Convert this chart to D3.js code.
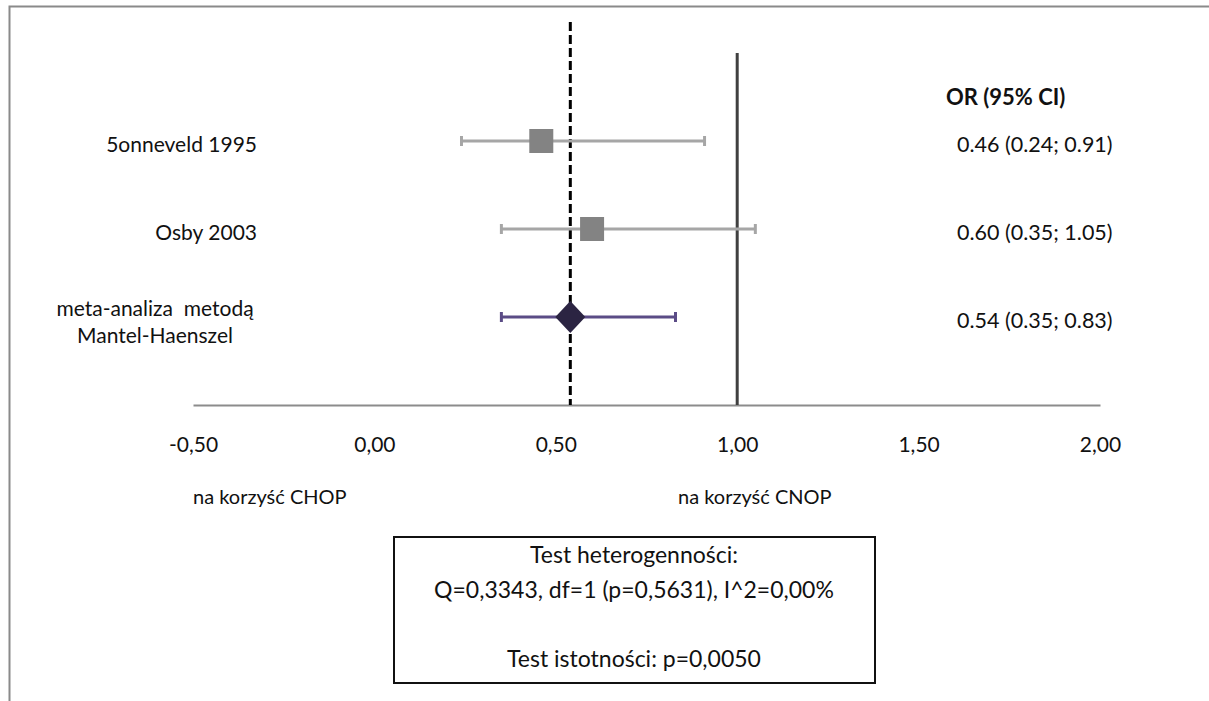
<!DOCTYPE html>
<html>
<head>
<meta charset="utf-8">
<script src="https://cdn.jsdelivr.net/npm/d3@7"></script>
<style>
    body { margin: 0; background: #fff; }
    svg text { font-family: Lato, "Open Sans", sans-serif; fill: #111; white-space: pre; }
</style>
</head>
<body>
<div id="chart"></div>
<script>
// study rows, top to bottom
const studies = ['5onneveld 1995', 'Osby 2003', 'meta-analiza  metodą|Mantel-Haenszel'];
const oddsRatios = [0.46, 0.60, 0.54];
const ciLow = [0.24, 0.35, 0.35];
const ciHigh = [0.91, 1.05, 0.83];
const rowPos = [3, 2, 1];
const xTicks = [-0.5, 0, 0.5, 1, 1.5, 2];
const pooledOR = 0.54;
const noEffect = 1;
const sideLabels = ['na korzyść CHOP', 'na korzyść CNOP'];
const statsLines = ['Test heterogenności:', 'Q=0,3343, df=1 (p=0,5631), I^2=0,00%', '', 'Test istotności: p=0,0050'];

const width = 1209, height = 701;
const svg = d3.select('#chart').append('svg')
    .attr('width', width)
    .attr('height', height);

// outer frame (only left and top edges are in view)
svg.append('path')
    .attr('d', 'M9.5,' + height + 'V6.5H' + width)
    .attr('fill', 'none')
    .attr('stroke', '#8a8a8a')
    .attr('stroke-width', 2);

const x = d3.scaleLinear().domain([-0.5, 2]).range([193, 1100]);
const y = d3.scaleLinear().domain([0, 4]).range([405, 53]);

// x axis: line + comma-decimal labels, plain hyphen for minus
const fmt = d => d3.format('.2f')(d).replace('.', ',').replace('\u2212', '-');
const axis = svg.append('g').attr('transform', 'translate(0,' + y(0) + ')')
    .call(d3.axisBottom(x).tickValues(xTicks).tickSize(0).tickPadding(32).tickFormat(fmt));
axis.select('.domain').attr('stroke', '#8c8c8c').attr('stroke-width', 2);
axis.selectAll('.tick text')
    .style('font-size', '21px')
    .attr('fill', '#111');

// reference lines
svg.append('line')
    .attr('x1', x(noEffect)).attr('x2', x(noEffect))
    .attr('y1', y(4)).attr('y2', y(0))
    .attr('stroke', '#404040').attr('stroke-width', 3);

svg.append('line')
    .attr('x1', x(pooledOR)).attr('x2', x(pooledOR))
    .attr('y1', 22).attr('y2', y(0))
    .attr('stroke', '#000').attr('stroke-width', 3)
    .attr('stroke-dasharray', '9,4');

const rows = studies.map((s, i) => ({
    label: s, or: oddsRatios[i], lo: ciLow[i], hi: ciHigh[i], pos: rowPos[i], pooled: i === studies.length - 1
}));

// confidence intervals with caps
const ci = svg.append('g').selectAll('g').data(rows).enter().append('g')
    .attr('stroke', d => d.pooled ? '#5b4c86' : '#a6a6a6')
    .attr('stroke-width', 3);
ci.append('line')
    .attr('x1', d => x(d.lo)).attr('x2', d => x(d.hi))
    .attr('y1', d => y(d.pos)).attr('y2', d => y(d.pos));
ci.append('line')
    .attr('x1', d => x(d.lo)).attr('x2', d => x(d.lo))
    .attr('y1', d => y(d.pos) - 5).attr('y2', d => y(d.pos) + 5);
ci.append('line')
    .attr('x1', d => x(d.hi)).attr('x2', d => x(d.hi))
    .attr('y1', d => y(d.pos) - 5).attr('y2', d => y(d.pos) + 5);

// study squares
svg.selectAll('rect.study').data(rows.filter(d => !d.pooled)).enter().append('rect')
    .attr('class', 'study')
    .attr('x', d => x(d.or) - 12).attr('y', d => y(d.pos) - 12)
    .attr('width', 24).attr('height', 24)
    .attr('fill', '#838383');

// pooled diamond
svg.selectAll('path.pooled').data(rows.filter(d => d.pooled)).enter().append('path')
    .attr('class', 'pooled')
    .attr('d', d => {
        const cx = x(d.or), cy = y(d.pos);
        return 'M' + (cx - 15) + ',' + cy + 'L' + cx + ',' + (cy - 16) + 'L' + (cx + 15) + ',' + cy + 'L' + cx + ',' + (cy + 16) + 'Z';
    })
    .attr('fill', '#2b2442');

// left labels
rows.forEach(d => {
    const parts = d.label.split('|');
    if (parts.length === 1) {
        svg.append('text')
            .attr('x', 257).attr('y', y(d.pos) + 11)
            .attr('text-anchor', 'end')
            .style('font-size', '21px')
            .text(parts[0]);
    } else {
        parts.forEach((p, j) => {
            svg.append('text')
                .attr('x', 155).attr('y', y(d.pos) - 1 + j * 27)
                .attr('text-anchor', 'middle')
                .style('font-size', '21px')
                .text(p);
        });
    }
});

// right column: OR (95% CI)
svg.append('text')
    .attr('x', 946).attr('y', y(3.5) + 8)
    .style('font-size', '22px').style('font-weight', 'bold')
    .text('OR (95% CI)');
svg.selectAll('text.orval').data(rows).enter().append('text')
    .attr('class', 'orval')
    .attr('x', 957).attr('y', d => y(d.pos) + 11)
    .style('font-size', '21.5px')
    .text(d => d3.format('.2f')(d.or) + ' (' + d3.format('.2f')(d.lo) + '; ' + d3.format('.2f')(d.hi) + ')');

// favour labels
svg.append('text').attr('x', 193).attr('y', 504).style('font-size', '20px').text(sideLabels[0]);
svg.append('text').attr('x', 678).attr('y', 504).style('font-size', '20px').text(sideLabels[1]);

// stats box
svg.append('rect')
    .attr('x', 394).attr('y', 537).attr('width', 481).attr('height', 146)
    .attr('fill', '#fff').attr('stroke', '#111').attr('stroke-width', 2);
statsLines.forEach((t, i) => {
    svg.append('text')
        .attr('x', 634).attr('y', 563 + i * 34.5)
        .attr('text-anchor', 'middle')
        .style('font-size', '23px')
        .text(t);
});
</script>
</body>
</html>
